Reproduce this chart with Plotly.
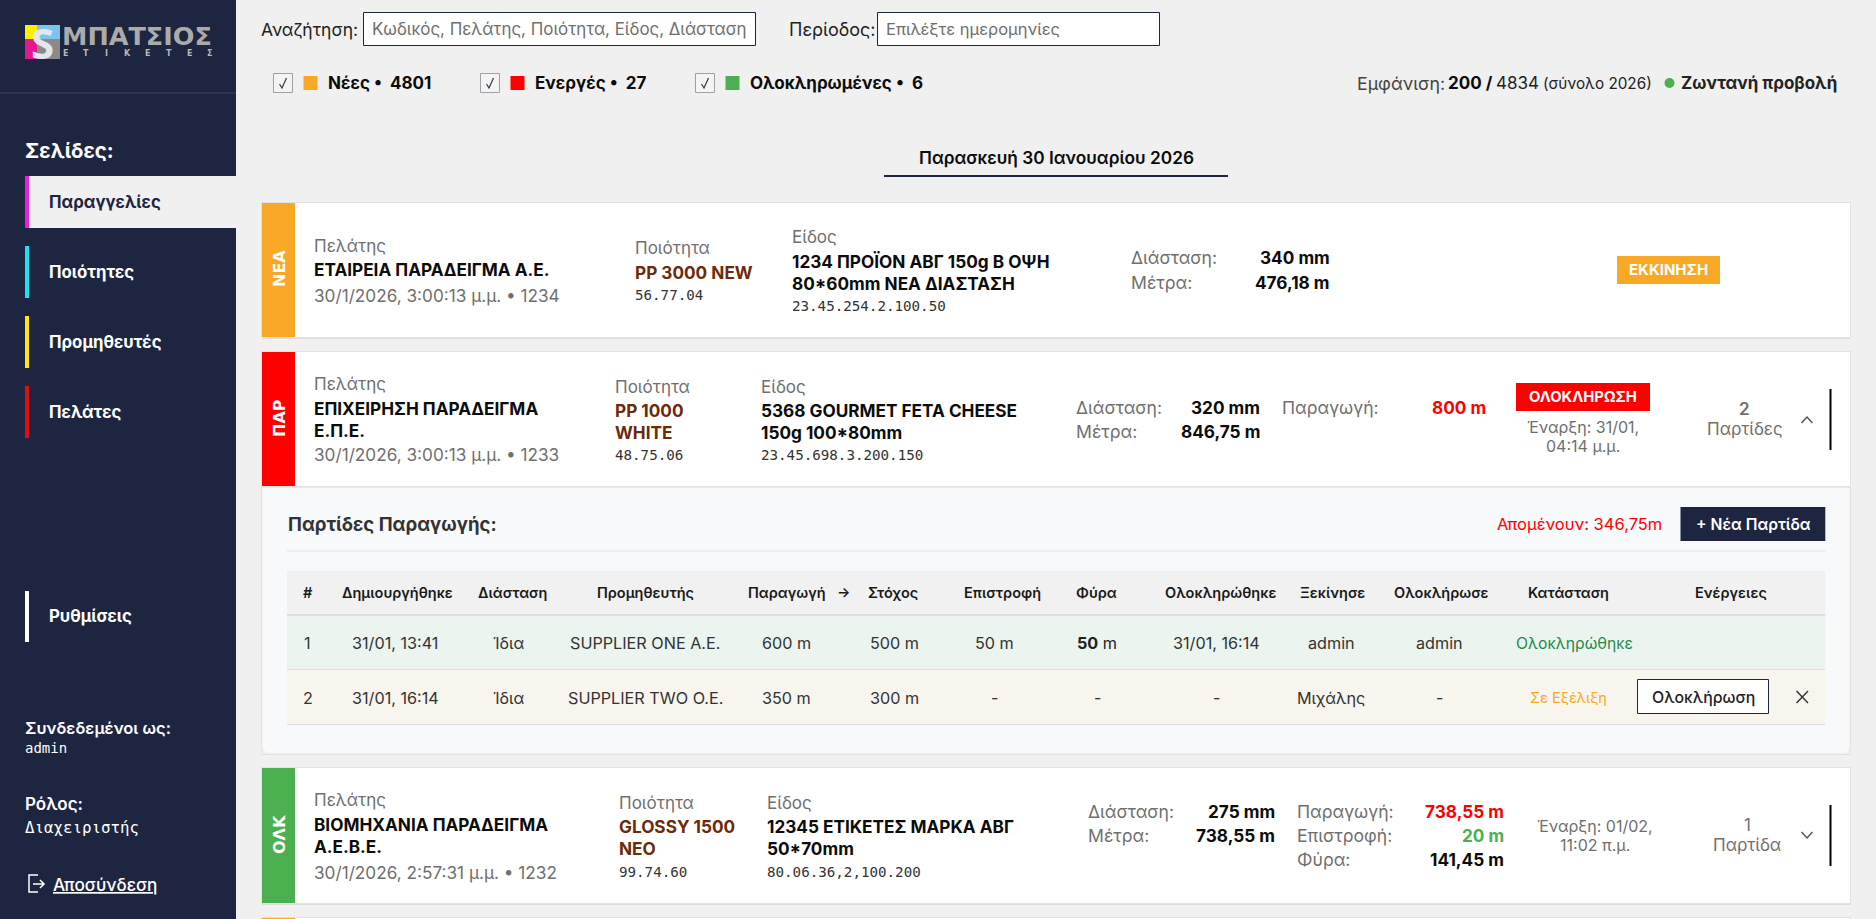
import plotly.graph_objects as go

# ---- data ----
page_names = ["Παραγγελίες", "Ποιότητες", "Προμηθευτές", "Πελάτες"]
filter_names = ["Νέες", "Ενεργές", "Ολοκληρωμένες"]
filter_counts = [4801, 27, 6]
shown_count = 200
total_count = 4834
date_title = "Παρασκευή 30 Ιανουαρίου 2026"

card_codes = ["ΝΕΑ", "ΠΑΡ", "ΟΛΚ"]
card_customers = [["ΕΤΑΙΡΕΙΑ ΠΑΡΑΔΕΙΓΜΑ Α.Ε."], ["ΕΠΙΧΕΙΡΗΣΗ ΠΑΡΑΔΕΙΓΜΑ", "Ε.Π.Ε."], ["ΒΙΟΜΗΧΑΝΙΑ ΠΑΡΑΔΕΙΓΜΑ", "Α.Ε.Β.Ε."]]
card_dates = ["30/1/2026, 3:00:13 μ.μ. • 1234", "30/1/2026, 3:00:13 μ.μ. • 1233", "30/1/2026, 2:57:31 μ.μ. • 1232"]
card_qualities = [["PP 3000 NEW"], ["PP 1000", "WHITE"], ["GLOSSY 1500", "ΝΕΟ"]]
card_quality_codes = ["56.77.04", "48.75.06", "99.74.60"]
card_items = [["1234 ΠΡΟΪΟΝ ΑΒΓ 150g Β ΟΨΗ", "80*60mm ΝΕΑ ΔΙΑΣΤΑΣΗ"], ["5368 GOURMET FETA CHEESE", "150g 100*80mm"], ["12345 ΕΤΙΚΕΤΕΣ ΜΑΡΚΑ ΑΒΓ", "50*70mm"]]
card_item_codes = ["23.45.254.2.100.50", "23.45.698.3.200.150", "80.06.36,2,100.200"]
card_dims = ["340 mm", "320 mm", "275 mm"]
card_meters = ["476,18 m", "846,75 m", "738,55 m"]

batch_headers = ["#", "Δημιουργήθηκε", "Διάσταση", "Προμηθευτής", "Παραγωγή", "Στόχος", "Επιστροφή", "Φύρα", "Ολοκληρώθηκε", "Ξεκίνησε", "Ολοκλήρωσε", "Κατάσταση", "Ενέργειες"]
batch_row_1 = ["1", "31/01, 13:41", "Ίδια", "SUPPLIER ONE A.E.", "600 m", "500 m", "50 m", "50 m", "31/01, 16:14", "admin", "admin", "Ολοκληρώθηκε"]
batch_row_2 = ["2", "31/01, 16:14", "Ίδια", "SUPPLIER TWO O.E.", "350 m", "300 m", "-", "-", "-", "Μιχάλης", "-", "Σε Εξέλιξη"]

# ---- styles ----
SANS = "Inter"
MONO = "DejaVu Sans Mono"
NAVY = "#1e2540"
BG = "#f0f0f0"
ORANGE = "#f9a825"
RED = "#ff0000"
GREEN = "#4caf50"
GREY = "#6f6f6f"
INK = "#0c0c0c"
BROWN = "#6b2a0a"
BODY = 17
RIGHT = 1850.5

shapes = []
notes = []


def rect(x0, y0, x1, y1, fill, line=None, width=1):
    shapes.append(dict(type="rect", x0=x0, y0=y0, x1=x1, y1=y1, fillcolor=fill, layer="below",
                       line=dict(color=line, width=width) if line else dict(width=0)))


def seg(x0, y0, x1, y1, color, width=1):
    shapes.append(dict(type="line", x0=x0, y0=y0, x1=x1, y1=y1, layer="below", line=dict(color=color, width=width)))


def txt(x, y, s, size=BODY, color=INK, weight=400, anchor="left", font=SANS, angle=0):
    notes.append(dict(x=x, y=y, text=s, xref="x", yref="y", xanchor=anchor, yanchor="middle", showarrow=False,
                      textangle=angle, borderpad=0, borderwidth=0,
                      font=dict(family=font, size=size, color=color, weight=weight)))


# sidebar
rect(0, 0, 236, 919, NAVY)
seg(0, 93, 236, 93, "#41454f", 1)

# logo
rect(25, 25, 60, 59, "#9a9a9a")
rect(25, 25, 37, 39, "#ffee00")
rect(37, 25, 60, 39, "#7cc4ee")
rect(25, 39, 37, 59, "#e6178c")
rect(37, 39, 60, 59, "#8a8a8a")
txt(42, 42, "S", 42, "#e3e6ea", 700, "center", font="Noto Sans")
txt(62, 36, "ΜΠΑΤΣΙΟΣ", 25.5, "#ababab", 700, font="DejaVu Sans")
for i, ch in enumerate("ΕΤΙΚΕΤΕΣ"):
    txt(65 + i * 20.7, 53, ch, 8, "#b8b8b8", 700, "center", font="DejaVu Sans")

txt(25, 150, "Σελίδες:", 20.5, "white", 700)
page_colors = ["#e81fe0", "#19e3ee", "#ffe81a", "#e00f0f"]
rect(25, 176, 236, 228, BG)
for i, name in enumerate(page_names):
    top = 176 + i * 70
    rect(25, top, 29, top + 52, page_colors[i])
    txt(49, top + 26, name, 16.8, NAVY if i == 0 else "white", 700)
rect(25, 591, 29, 642, "white")
txt(49, 616, "Ρυθμίσεις", 16.8, "white", 700)
txt(25, 728, "Συνδεδεμένοι ως:", 16.5, "white", 600)
txt(25, 748, "admin", 14, "white", 400, font=MONO)
txt(25, 804, "Ρόλος:", BODY, "white", 600)
txt(25, 827, "Διαχειριστής", 15.8, "white", 400, font=MONO)
shapes.append(dict(type="path", path="M 38 875 L 29 875 L 29 892 L 38 892", line=dict(color="white", width=1.5), layer="below"))
shapes.append(dict(type="path", path="M 33 884 L 44 884 M 40 880 L 44 884 L 40 888", line=dict(color="white", width=1.5), layer="below"))
txt(53, 884, "<u>Αποσύνδεση</u>", 17.2, "white", 500)

# search row
txt(261, 29, "Αναζήτηση:", 17.5, "#222222")
rect(363.5, 12.5, 755.5, 45.5, "white", NAVY, 1)
txt(372, 29, "Κωδικός, Πελάτης, Ποιότητα, Είδος, Διάσταση", 16.9, GREY)
txt(789, 29, "Περίοδος:", 18, "#222222")
rect(877.5, 12.5, 1159.5, 45.5, "white", NAVY, 1)
txt(886, 29, "Επιλέξτε ημερομηνίες", 16.5, GREY)

# filter row
box_x = [273.5, 480.5, 695.5]
sw_colors = [ORANGE, RED, GREEN]
for i, name in enumerate(filter_names):
    x = box_x[i]
    rect(x, 73.5, x + 19, 92.5, "#f4f4f4", "#a0a0a0", 1)
    shapes.append(dict(type="path", path=f"M {x+6} {84} L {x+8.5} {88} L {x+13} {78}", line=dict(color="#333a4a", width=1.2), layer="below"))
    rect(x + 30, 76, x + 44, 90, sw_colors[i])
    txt(x + 54.5, 83, f"{name} •  {filter_counts[i]}", BODY, INK, 700)

txt(1356.7, 83, "Εμφάνιση:", 17.8, "#444444")
txt(1447.6, 83, f"{shown_count} /", BODY, INK, 700)
txt(1496.3, 83, f"{total_count}", BODY, "#222222")
txt(1543, 83, "(σύνολο 2026)", 15.3, "#222222")
shapes.append(dict(type="circle", x0=1664.5, y0=78, x1=1674.5, y1=88, fillcolor=GREEN, line=dict(width=0), layer="below"))
txt(1681, 83, "Ζωντανή προβολή", BODY, "#222222", 700)

txt(1056, 157, date_title, 17.3, INK, 600, "center")
seg(884, 176, 1228, 176, NAVY, 2)


def card(top, bottom, color):
    rect(262, bottom, RIGHT, bottom + 2, "#dcdcdc")
    rect(261.5, top - 0.5, RIGHT, bottom + 0.5, "white", "#e2e2e2", 1)
    rect(262, top, 295, bottom, color)


def two_line(x, ys, lines, color):
    for y, s in zip(ys, lines):
        txt(x, y, s, 17.2, color, 700)


# card 1
card(203, 337, ORANGE)
txt(279, 269, card_codes[0], 16, "white", 700, "center", font="DejaVu Sans", angle=-90)
txt(314, 246, "Πελάτης", BODY, GREY)
two_line(314, [269], card_customers[0], INK)
txt(314, 295, card_dates[0], 17.2, GREY)
txt(635, 248, "Ποιότητα", BODY, GREY)
two_line(635, [272], card_qualities[0], BROWN)
txt(635, 295, card_quality_codes[0], 14.2, "#333333", font=MONO)
txt(792, 237, "Είδος", BODY, GREY)
two_line(792, [261, 283], card_items[0], INK)
txt(792, 306, card_item_codes[0], 14.2, "#333333", font=MONO)
txt(1131, 257, "Διάσταση:", 17.6, GREY)
txt(1329.5, 257, card_dims[0], 17.2, INK, 700, "right")
txt(1131, 282, "Μέτρα:", 17.6, GREY)
txt(1329.5, 282, card_meters[0], 17.2, INK, 700, "right")
rect(1617, 256, 1720, 284, ORANGE)
txt(1668.5, 269.5, "ΕΚΚΙΝΗΣΗ", 15, "white", 700, "center")

# card 2
card(352, 486, RED)
txt(279, 418, card_codes[1], 16, "white", 700, "center", font="DejaVu Sans", angle=-90)
txt(314, 384, "Πελάτης", BODY, GREY)
two_line(314, [408, 430], card_customers[1], INK)
txt(314, 454, card_dates[1], 17.2, GREY)
txt(614.5, 387, "Ποιότητα", BODY, GREY)
two_line(614.5, [410, 432], card_qualities[1], BROWN)
txt(614.5, 455, card_quality_codes[1], 14.2, "#333333", font=MONO)
txt(761, 387, "Είδος", BODY, GREY)
two_line(761, [410, 432], card_items[1], INK)
txt(761, 455, card_item_codes[1], 14.2, "#333333", font=MONO)
txt(1076, 407, "Διάσταση:", 17.6, GREY)
txt(1259.5, 407, card_dims[1], 17.2, INK, 700, "right")
txt(1076, 431, "Μέτρα:", 17.6, GREY)
txt(1259.5, 431, card_meters[1], 17.2, INK, 700, "right")
txt(1281.5, 407, "Παραγωγή:", 17.6, GREY)
txt(1485.5, 407, "800 m", 17.2, RED, 700, "right")
rect(1516, 383, 1650, 411, RED)
txt(1583, 396.5, "ΟΛΟΚΛΗΡΩΣΗ", 14.8, "white", 700, "center")
txt(1583, 427, "Έναρξη: 31/01,", 16, GREY, 400, "center")
txt(1583, 446, "04:14 μ.μ.", 16, GREY, 400, "center")
txt(1744.5, 409, "2", BODY, GREY, 600, "center")
txt(1744.5, 429, "Παρτίδες", BODY, GREY, 400, "center")
shapes.append(dict(type="path", path="M 1801.5 423 L 1807 417 L 1812.5 423", line=dict(color="#555555", width=1.5), layer="below"))
seg(1830.5, 389, 1830.5, 450, "#000000", 2)

# batch panel
rect(261.5, 487, RIGHT, 754.5, "#f0f0f0", "#e2e2e2", 1)
shapes.append(dict(type="path", path=f"M 262.5 488 L {RIGHT-1} 488 L {RIGHT-1} 745 Q {RIGHT-1} 753 {RIGHT-9} 753 L 271 753 Q 262.5 753 262.5 745 Z",
                   fillcolor="#f8f9fa", line=dict(width=0), layer="below"))
txt(288, 524, "Παρτίδες Παραγωγής:", 18.6, "#333333", 700)
txt(1662, 524, "Απομένουν: 346,75m", 16.5, RED, 400, "right")
rect(1680.5, 507, 1825.3, 541, NAVY)
txt(1753, 524, "+ Νέα Παρτίδα", 15.7, "white", 600, "center")
seg(287, 551, 1825.3, 551, "#e3e3e3", 1)

rect(287, 571, 1825.3, 614, "#f1f1f1")
rect(287, 614, 1825.3, 616, "#dedede")
rect(287, 616, 1825.3, 669, "#ebf4ef")
rect(287, 669, 1825.3, 670, "#e0e0e0")
rect(287, 670, 1825.3, 724, "#f8f5ee")
rect(287, 724, 1825.3, 725, "#e0e0e0")

header_x = [307.5, 397.5, 512.5, 645, 787, 893, 1002.7, 1096.3, 1220.8, 1332.8, 1441.9, 1568.3, 1730.7]
cell_x = [307.5, 395, 508, 645, 786, 894, 994.8, 1097, 1216.8, 1331.3, 1439.9, 1574.5]
for x, h in zip(header_x, batch_headers):
    txt(x, 592, h, 14.5, "#1a1a1a", 600, "center")
txt(843, 591, "→", 14, "#1a1a1a", 600, "center")
for i, (a, b) in enumerate(zip(batch_row_1, batch_row_2)):
    x = cell_x[i]
    c1, c2 = "#333333", "#333333"
    if i == 11:
        c1, c2 = "#1f8a4c", ORANGE
    if i == 7:
        txt(x, 643, "<b>50</b> m", 16.2, "#222222", 400, "center")
    else:
        txt(x, 643, a, 15.7 if i == 11 else 16.2, c1, 400, "center")
    txt(x - (6.5 if i == 11 else 0), 698, b, 14.6 if i == 11 else 16.2, c2, 400, "center")
rect(1637.5, 679.5, 1768.5, 713.5, "white", NAVY, 1)
txt(1703, 697, "Ολοκλήρωση", 15.9, "#222222", 500, "center")
shapes.append(dict(type="path", path="M 1796.5 691 L 1808 703 M 1808 691 L 1796.5 703", line=dict(color="#333333", width=1.4), layer="below"))

# card 3
card(768, 903, GREEN)
txt(279, 835, card_codes[2], 16, "white", 700, "center", font="DejaVu Sans", angle=-90)
txt(314, 800, "Πελάτης", BODY, GREY)
two_line(314, [824, 846], card_customers[2], INK)
txt(314, 872, card_dates[2], 17.2, GREY)
txt(619, 803, "Ποιότητα", BODY, GREY)
two_line(619, [826, 848], card_qualities[2], BROWN)
txt(619, 872, card_quality_codes[2], 14.2, "#333333", font=MONO)
txt(767, 803, "Είδος", BODY, GREY)
two_line(767, [826, 848], card_items[2], INK)
txt(767, 872, card_item_codes[2], 14.2, "#333333", font=MONO)
txt(1087.5, 811, "Διάσταση:", 17.6, GREY)
txt(1274.5, 811, card_dims[2], 17.2, INK, 700, "right")
txt(1087.5, 835, "Μέτρα:", 17.6, GREY)
txt(1274.5, 835, card_meters[2], 17.2, INK, 700, "right")
txt(1297, 811, "Παραγωγή:", 17.6, GREY)
txt(1504, 811, "738,55 m", 17.2, RED, 700, "right")
txt(1297, 835, "Επιστροφή:", 17.6, GREY)
txt(1504, 835, "20 m", 17.2, GREEN, 700, "right")
txt(1297, 859, "Φύρα:", 17.6, GREY)
txt(1504, 859, "141,45 m", 17.2, INK, 700, "right")
txt(1595, 826, "Έναρξη: 01/02,", 16, GREY, 400, "center")
txt(1595, 845, "11:02 π.μ.", 16, GREY, 400, "center")
txt(1747, 825, "1", BODY, GREY, 400, "center")
txt(1747, 845, "Παρτίδα", BODY, GREY, 400, "center")
shapes.append(dict(type="path", path="M 1801.5 832 L 1807 838 L 1812.5 832", line=dict(color="#555555", width=1.5), layer="below"))
seg(1830.5, 805, 1830.5, 866, "#000000", 2)

# top of next card
rect(261.5, 917.5, RIGHT, 925, "white", "#e2e2e2", 1)
rect(262, 918, 295, 925, ORANGE)

fig = go.Figure()
fig.update_layout(
    width=1876, height=919, margin=dict(l=0, r=0, t=0, b=0), showlegend=False,
    paper_bgcolor=BG, plot_bgcolor=BG, font=dict(family=SANS),
    xaxis=dict(range=[0, 1876], visible=False, fixedrange=True),
    yaxis=dict(range=[919, 0], visible=False, fixedrange=True),
    shapes=shapes, annotations=notes,
)
fig.write_html("out.html", config=dict(displayModeBar=False),
               post_script="document.body.style.margin='0';document.body.style.overflow='hidden';")
